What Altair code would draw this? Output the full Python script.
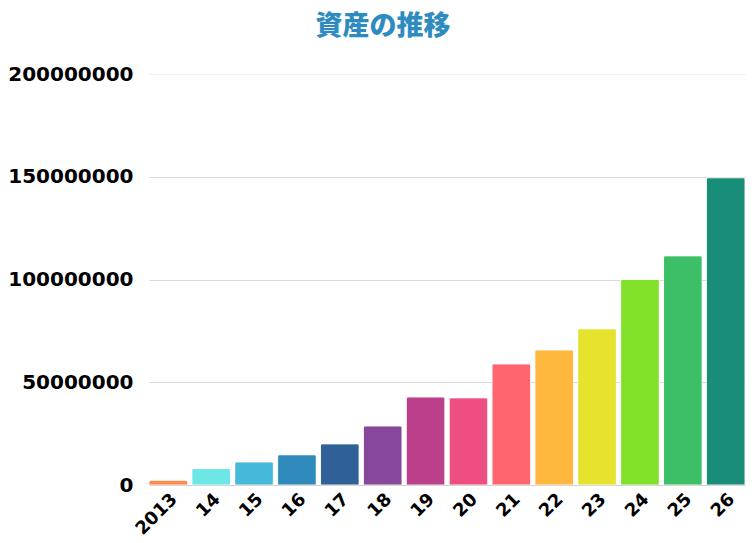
import altair as alt
import pandas as pd

years = ["2013", "14", "15", "16", "17", "18", "19", "20", "21", "22", "23", "24", "25", "26"]
assets = [2300000, 8000000, 11200000, 14700000, 20000000, 28700000, 42800000, 42400000,
          58900000, 65700000, 76000000, 100000000, 111500000, 149500000]
colors = ["#FF8A4C", "#6DE6E6", "#45B9D9", "#2E8BBB", "#2F6098", "#87479B", "#BC3F8C",
          "#EF4E80", "#FF6670", "#FFB73E", "#E5E32E", "#80E02A", "#3CBF67", "#188E78"]
y_ticks = [0, 50000000, 100000000, 150000000, 200000000]

df = pd.DataFrame({"year": years, "asset": assets, "color": colors})

chart = alt.Chart(df).mark_bar(
    cornerRadiusTopLeft=2, cornerRadiusTopRight=2, stroke="white", strokeWidth=0.5
).encode(
    x=alt.X("year:N", sort=years, title=None,
            scale=alt.Scale(paddingInner=0.1, paddingOuter=0.0),
            axis=alt.Axis(labelAngle=315, labelFont="DejaVu Sans", labelFontWeight="bold",
                          labelFontSize=18, labelColor="#000", ticks=False, domain=True,
                          domainColor="#cccccc", labelPadding=5)),
    y=alt.Y("asset:Q", title=None, scale=alt.Scale(domain=[0, 200000000], nice=False),
            axis=alt.Axis(values=y_ticks, format="d", labelFont="DejaVu Sans",
                          labelFontWeight="bold", labelFontSize=20, labelColor="#000",
                          ticks=False, domain=False,
                          gridColor=alt.condition("datum.value == 200000000",
                                                  alt.value("#f0f0f0"), alt.value("#d9d9d9")),
                          labelPadding=16)),
    color=alt.Color("color:N", scale=None, legend=None),
).properties(
    width=596, height=411,
    autosize=alt.AutoSizeParams(type="none"),
    padding={"left": 141, "top": 66, "right": 3, "bottom": 50},
    title=alt.TitleParams("資産の推移", font="Noto Sans CJK JP", fontSize=27, fontWeight=900,
                          color="#2E8BC0", anchor="middle", dx=-64, offset=23),
).configure_view(stroke=None)

chart.save("out.html", embed_options={"renderer": "svg", "actions": False})
